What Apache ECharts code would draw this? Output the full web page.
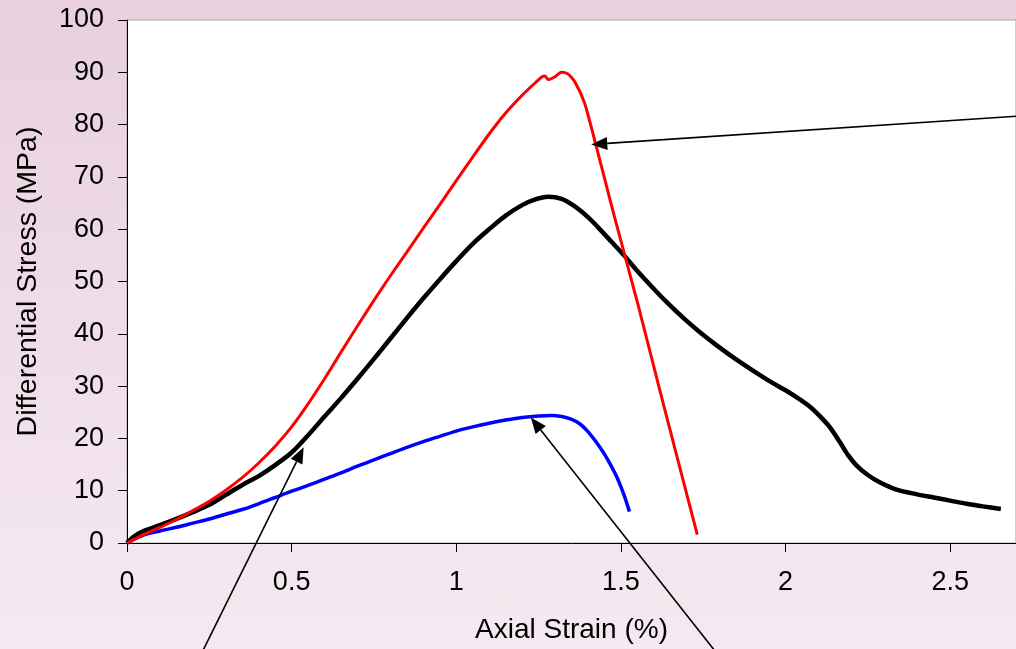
<!DOCTYPE html>
<html>
<head>
<meta charset="utf-8">
<script src="https://cdn.jsdelivr.net/npm/echarts@6/dist/echarts.min.js"></script>
<style>
  html, body { margin: 0; padding: 0; }
  body { width: 1016px; height: 649px; overflow: hidden;
         background: linear-gradient(to bottom, #e8d0dd 0%, #efdde7 50%, #f5eaf1 100%); }
  #chart { width: 1016px; height: 649px; }
</style>
</head>
<body>
<div id="chart"></div>
<script>
// Stress-strain curves: [axial strain %, differential stress MPa]
const redCurve = [
  [0, 0], [0.05, 1.6], [0.1, 3.0], [0.15, 4.5], [0.2, 6.2], [0.25, 8.0], [0.3, 10.1],
  [0.35, 12.5], [0.4, 15.3], [0.45, 18.5], [0.5, 22.2], [0.55, 26.6], [0.6, 31.4],
  [0.65, 36.5], [0.7, 41.5], [0.75, 46.4], [0.8, 51.1], [0.85, 55.6], [0.9, 60.2],
  [0.95, 64.7], [1.0, 69.3], [1.05, 73.8], [1.1, 78.2], [1.15, 82.2], [1.2, 85.6],
  [1.24, 88.0], [1.262, 89.2], [1.27, 89.3], [1.279, 88.6], [1.299, 89.1], [1.319, 90.0],
  [1.339, 89.7], [1.36, 88.2], [1.39, 84.1], [1.42, 77.1], [1.45, 69.8], [1.48, 62.5],
  [1.551, 45.8], [1.611, 31.0], [1.67, 16.6], [1.732, 1.6]
];
const blackCurve = [
  [0, 0], [0.02, 1.2], [0.05, 2.3], [0.1, 3.4], [0.15, 4.6], [0.2, 5.9], [0.25, 7.3],
  [0.3, 9.2], [0.35, 11.1], [0.4, 12.8], [0.45, 14.9], [0.5, 17.3], [0.55, 20.6],
  [0.6, 24.2], [0.65, 27.7], [0.7, 31.4], [0.75, 35.2], [0.8, 39.1], [0.85, 43.0],
  [0.9, 46.8], [0.95, 50.4], [1.0, 53.9], [1.05, 57.2], [1.1, 60.0], [1.15, 62.6],
  [1.2, 64.6], [1.24, 65.7], [1.279, 66.2], [1.32, 65.8], [1.359, 64.4], [1.4, 62.3],
  [1.43, 60.4], [1.47, 57.7], [1.511, 54.9], [1.55, 52.0], [1.591, 49.2], [1.64, 46.0],
  [1.692, 42.9], [1.74, 40.3], [1.793, 37.7], [1.85, 35.1], [1.9, 33.0], [1.95, 31.0],
  [2.0, 29.2], [2.04, 27.6], [2.075, 26.0], [2.105, 24.2], [2.135, 22.1], [2.165, 19.3],
  [2.19, 16.8], [2.216, 14.8], [2.25, 13.0], [2.286, 11.6], [2.337, 10.2], [2.4, 9.3],
  [2.45, 8.7], [2.5, 8.1], [2.55, 7.5], [2.6, 7.0], [2.654, 6.5]
];
const blueCurve = [
  [0, 0], [0.05, 1.5], [0.1, 2.3], [0.15, 3.0], [0.2, 3.8], [0.25, 4.6], [0.3, 5.5],
  [0.35, 6.4], [0.4, 7.5], [0.45, 8.7], [0.5, 9.9], [0.55, 11.0], [0.6, 12.2],
  [0.65, 13.4], [0.7, 14.7], [0.75, 15.9], [0.8, 17.1], [0.85, 18.3], [0.9, 19.4],
  [0.95, 20.4], [1.0, 21.4], [1.05, 22.2], [1.1, 22.9], [1.15, 23.5], [1.2, 24.0],
  [1.25, 24.3], [1.29, 24.4], [1.32, 24.2], [1.349, 23.7], [1.375, 22.8], [1.4, 21.3],
  [1.425, 19.3], [1.45, 17.0], [1.47, 14.8], [1.49, 12.3], [1.51, 9.1], [1.526, 6.0]
];
// Annotation arrows: [tail strain, tail stress, head strain, head stress]
const arrows = [
  [2.75, 81.8, 1.41, 76.2],
  [0.2186, -22.1, 0.5366, 18.3],
  [1.804, -22.1, 1.2264, 24.0]
];
const xTicks = { min: 0, max: 2.7, step: 0.5 };
const yTicks = { min: 0, max: 100, step: 10 };

const FONT = '"Liberation Sans", Arial, sans-serif';
const chart = echarts.init(document.getElementById('chart'), null, { renderer: 'canvas' });

function renderArrow(params, api) {
  const p1 = api.coord([api.value(0), api.value(1)]);
  const p2 = api.coord([api.value(2), api.value(3)]);
  const dx = p2[0] - p1[0], dy = p2[1] - p1[1];
  const len = Math.sqrt(dx * dx + dy * dy);
  const ux = dx / len, uy = dy / len;
  const headLen = 16, headHalf = 6.5;
  const bx = p2[0] - ux * headLen, by = p2[1] - uy * headLen;
  return {
    type: 'group',
    children: [
      { type: 'line', shape: { x1: p1[0], y1: p1[1], x2: bx, y2: by },
        style: { stroke: '#000', lineWidth: 1.6 } },
      { type: 'polygon',
        shape: { points: [[p2[0], p2[1]],
                          [bx - uy * headHalf, by + ux * headHalf],
                          [bx + uy * headHalf, by - ux * headHalf]] },
        style: { fill: '#000' } }
    ]
  };
}

chart.setOption({
  backgroundColor: 'transparent',
  animation: false,
  grid: {
    left: 127, right: -4, top: 20, bottom: 105,
    show: true, backgroundColor: '#ffffff', borderColor: '#a3a3a3', borderWidth: 1
  },
  xAxis: {
    type: 'value', min: xTicks.min, max: xTicks.max, interval: xTicks.step,
    name: 'Axial Strain (%)', nameLocation: 'middle', nameGap: 73,
    nameTextStyle: { fontFamily: FONT, fontSize: 28, color: '#000' },
    axisLine: { show: true, lineStyle: { color: '#000', width: 1 } },
    axisTick: { show: true, inside: false, length: 9, lineStyle: { color: '#000' } },
    axisLabel: { fontFamily: FONT, fontSize: 27, color: '#000', margin: 26, showMaxLabel: false },
    splitLine: { show: false }
  },
  yAxis: {
    type: 'value', min: yTicks.min, max: yTicks.max, interval: yTicks.step,
    name: 'Differential Stress (MPa)', nameLocation: 'middle', nameGap: 84,
    nameTextStyle: { fontFamily: FONT, fontSize: 28.5, color: '#000' },
    axisLine: { show: true, lineStyle: { color: '#000', width: 1 } },
    axisTick: { show: true, inside: false, length: 9, lineStyle: { color: '#000' } },
    axisLabel: { fontFamily: FONT, fontSize: 27, color: '#000', margin: 23 },
    splitLine: { show: false }
  },
  series: [
    { type: 'line', data: blueCurve, showSymbol: false, smooth: 0.3, clip: false,
      lineStyle: { color: '#0000ff', width: 3.5 }, z: 3 },
    { type: 'line', data: blackCurve, showSymbol: false, smooth: 0.3, clip: false,
      lineStyle: { color: '#000000', width: 4.5 }, z: 4 },
    { type: 'line', data: redCurve, showSymbol: false, smooth: 0.2, clip: false,
      lineStyle: { color: '#ff0000', width: 3 }, z: 5 },
    { type: 'custom', data: arrows, renderItem: renderArrow, clip: false, silent: true,
      encode: { x: [0, 2], y: [1, 3] }, z: 10 }
  ]
});
</script>
</body>
</html>
